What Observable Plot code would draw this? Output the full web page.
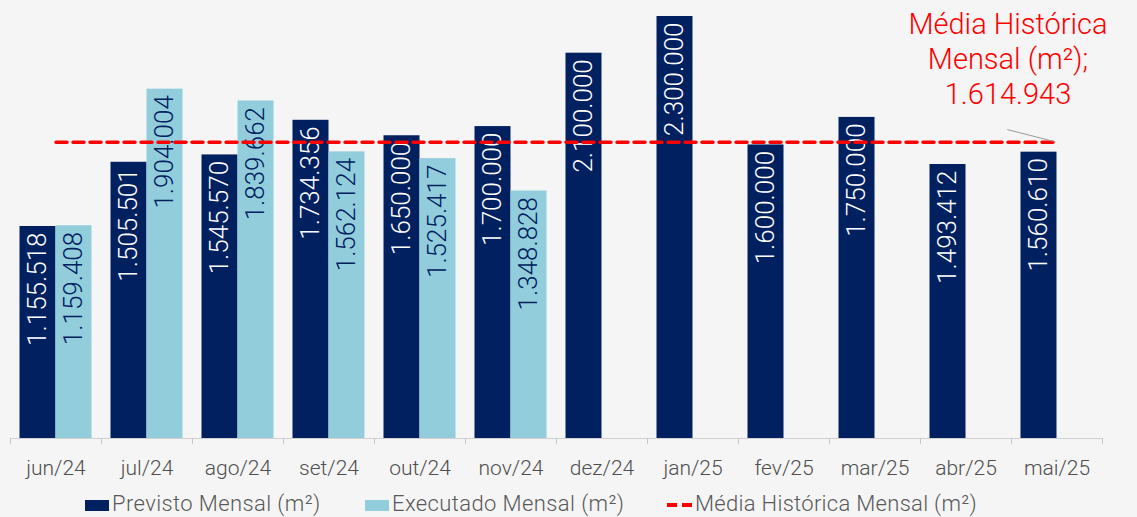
<!DOCTYPE html>
<html>
<head>
<meta charset="utf-8">
<script src="https://cdn.jsdelivr.net/npm/d3@7"></script>
<script src="https://cdn.jsdelivr.net/npm/@observablehq/plot@0.6"></script>
<style>
  html, body { margin: 0; padding: 0; background: #f5f5f5; width: 1137px; height: 517px; overflow: hidden; }
  #chart svg { display: block; background: #f5f5f5; }
  #legend { position: relative; height: 30px; font: 300 22px Roboto, sans-serif; color: #595959; }
  #legend .it { position: absolute; top: 5px; line-height: 24px; white-space: nowrap; }
  #legend .sw { position: absolute; top: 13px; width: 24px; height: 11px; }
  #legend .ds { position: absolute; top: 16px; width: 10px; height: 4px; background: #ff0000; }
</style>
</head>
<body>
<div id="chart"></div>
<div id="legend">
  <div class="sw" style="left:85px;background:#002060"></div>
  <div class="it" style="left:112px;letter-spacing:0.4px">Previsto Mensal (m²)</div>
  <div class="sw" style="left:365px;background:#92cddc"></div>
  <div class="it" style="left:392px;letter-spacing:0.4px">Executado Mensal (m²)</div>
  <div class="ds" style="left:667px"></div>
  <div class="ds" style="left:682px"></div>
  <div class="it" style="left:695px;letter-spacing:0.3px">Média Histórica Mensal (m²)</div>
</div>
<script>
const months = ["jun/24","jul/24","ago/24","set/24","out/24","nov/24","dez/24","jan/25","fev/25","mar/25","abr/25","mai/25"];
const previsto = [1155518,1505501,1545570,1734356,1650000,1700000,2100000,2300000,1600000,1750000,1493412,1560610];
const executado = [1159408,1904004,1839662,1562124,1525417,1348828,null,null,null,null,null,null];
const mediaHistorica = 1614943;
const mediaLabel = ["Média Histórica", "Mensal (m²);", "1.614.943"];

const fmt = d3.formatLocale({decimal: ",", thousands: ".", grouping: [3], currency: ["R$", ""]}).format(",d");

const prevData = months.map((m, i) => ({month: m, value: previsto[i]}));
const execData = months.map((m, i) => ({month: m, value: executado[i]})).filter(d => d.value != null);
const mediaData = months.map(m => ({month: m, value: mediaHistorica}));

const dark = "#002060", light = "#92cddc";

const chart = Plot.plot({
  width: 1137,
  height: 487,
  marginTop: 16,
  marginBottom: 49,
  marginLeft: 10,
  marginRight: 35,
  style: {fontFamily: "Roboto, sans-serif", background: "#f5f5f5"},
  x: {domain: months, type: "band", padding: 0, label: null},
  y: {domain: [0, 2300000], axis: null},
  marks: [
    Plot.barY(prevData, {x: "month", y: "value", fill: dark, insetLeft: 9.5, insetRight: 45.5}),
    Plot.barY(execData, {x: "month", y: "value", fill: light, insetLeft: 45.5, insetRight: 9.5}),
    Plot.ruleY([0], {stroke: "#d0d0d0", strokeWidth: 1}),
    Plot.axisX({tickSize: 6, tickFormat: () => "", dx: -45.5, stroke: "#c8c8c8"}),
    Plot.axisX({ticks: [months[months.length - 1]], tickSize: 6, tickFormat: () => "", dx: 45.5, stroke: "#c8c8c8"}),
    Plot.axisX({tickSize: 0, tickPadding: 22, fontSize: 21, fontWeight: 300, fill: "#4f4f4f", label: null}),
    Plot.text(prevData, {x: "month", y: "value", text: d => fmt(d.value), rotate: -90, textAnchor: "end", lineAnchor: "middle", dx: -18, dy: 6, fill: "white", fontSize: 26, fontWeight: 300}),
    Plot.text(execData, {x: "month", y: "value", text: d => fmt(d.value), rotate: -90, textAnchor: "end", lineAnchor: "middle", dx: 18, dy: 6, fill: dark, fontSize: 26, fontWeight: 300}),
    Plot.lineY(mediaData, {x: "month", y: "value", stroke: "#ff0000", strokeWidth: 3.5, strokeDasharray: "11,6"}),
    Plot.arrow([{a: months[10], b: months[11], y1: 1741000, y2: mediaHistorica}], {x1: "a", x2: "b", y1: "y1", y2: "y2", stroke: "#9a9a9a", strokeWidth: 1, headLength: 0, insetStart: 43, insetEnd: 2}),
    Plot.text([mediaLabel.join("\n")], {x: () => months[11], frameAnchor: "top", dx: -49, dy: -7, text: d => d, textAnchor: "middle", lineAnchor: "top", lineHeight: 1.2, fontSize: 29, fontWeight: 300, fill: "#ff0000"})
  ]
});
document.getElementById("chart").appendChild(chart);
</script>
</body>
</html>
